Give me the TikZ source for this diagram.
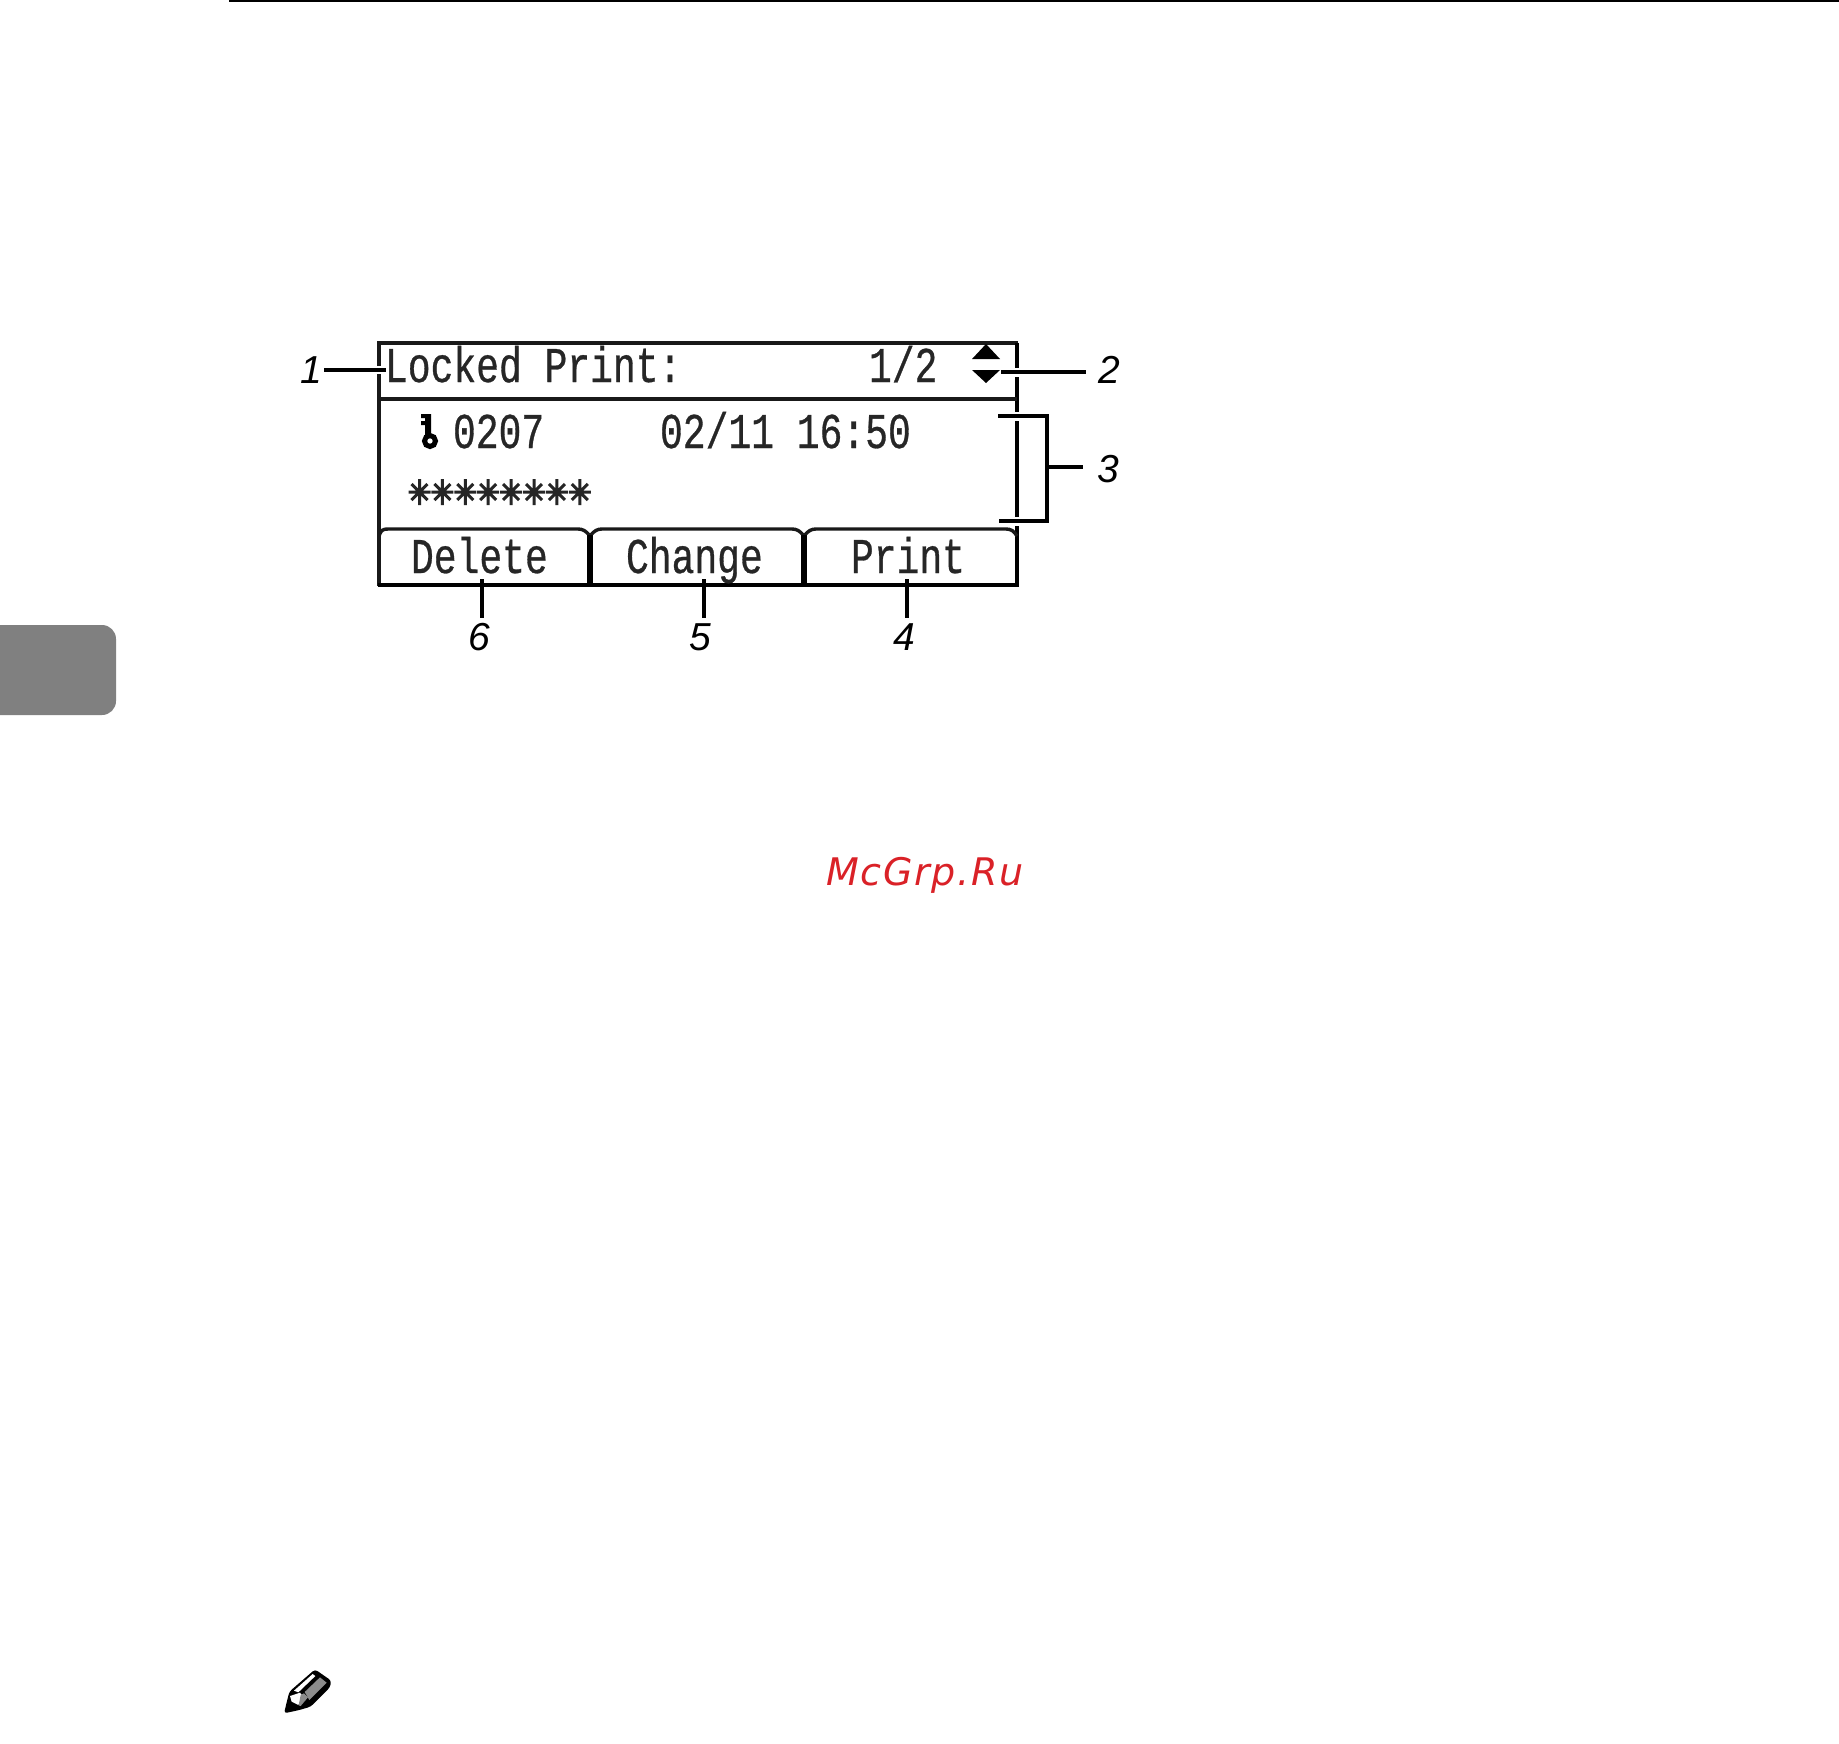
\documentclass[tikz,border=0pt]{standalone}
\usepackage{fontspec}
\setmainfont{Liberation Sans}
\newfontfamily\lcdfont[FakeStretch=0.76,FakeBold=0.6]{Liberation Mono}
\newfontfamily\markfont[LetterSpace=4.5]{DejaVu Sans}
\tikzset{
  lcd/.style={anchor=base west,inner sep=0pt,outer sep=0pt,text=black!85,font=\lcdfont\fontsize{50}{50}\selectfont},
  callout/.style={inner sep=0pt,outer sep=0pt,font=\itshape\fontsize{39}{39}\selectfont},
  leader/.style={draw=black,line width=4pt},
  halo/.style={draw=white,line width=9pt},
  frameline/.style={draw=black!90,line width=3.4pt},
  heavyline/.style={draw=black,line width=4.5pt},
}
\begin{document}
\begin{tikzpicture}[x=1pt,y=-1pt]
\useasboundingbox (0,0) rectangle (1839,1743);
\fill[white] (0,0) rectangle (1839,1743);
% header rule and side tab
\fill[black] (229,0) rectangle (1839,2);
\fill[black!50] (-20,625) [rounded corners=14pt] -- (116,625) -- (116,715) -- (-20,715) -- cycle;
% screen frame
\draw[frameline] (379,586) -- (379,343) -- (1018,343);
\draw[heavyline] (1017,343) -- (1017,586);
\draw[heavyline] (377.5,585) -- (1019.2,585);
\draw[frameline] (379,399) -- (1017,399);
% tab tops
\draw[frameline] (379,536) .. controls (381,530) and (383,529) .. (388,529) -- (578,529) .. controls (583,529) and (586,531) .. (590,536) .. controls (594,531) and (597,529) .. (602,529) -- (792,529) .. controls (797,529) and (800,531) .. (804,536) .. controls (808,531) and (811,529) .. (816,529) -- (1006,529) .. controls (1011,529) and (1014,531) .. (1017,536);
\draw[draw=black,line width=6pt] (590,535) -- (590,586);
\draw[draw=black,line width=6pt] (804,535) -- (804,586);
% screen text
\node[lcd] (title) at (385,382) {Locked Print:};
\node[lcd] (page) at (869,382) {1/2};
\node[lcd] (num) at (453,448) {0207};
\node[lcd] (stamp) at (660,448) {02/11 16:50};
\node[lcd] (del) at (411,573) {Delete};
\node[lcd] (chg) at (626,573) {Change};
\node[lcd] (prt) at (851,573) {Print};
% masked password
\foreach \i in {0,...,7}{
  \begin{scope}[shift={(419.5+22.9*\i,492)}]
    \draw[black!85,line width=3pt] (-11,0) -- (11,0) (0,-13) -- (0,13) (-8,-8) -- (8,8) (-8,8) -- (8,-8);
  \end{scope}
}
% key icon
\fill[black] (421,414) rectangle (431,418) (421,421) rectangle (431,425) (425,414) rectangle (431,436);
\draw[black,line width=5pt] (430,441) circle (5.5pt);
% scroll arrows
\fill[black] (972,359) -- (986,344) -- (1000,359) -- cycle;
\fill[black] (972,370) -- (986,383) -- (1000,370) -- cycle;
% callouts
\node[callout] (n1) at (311,370) {1};
\node[callout] (n2) at (1109,370) {2};
\node[callout] (n3) at (1108,469) {3};
\node[callout] (n4) at (904,637) {4};
\node[callout] (n5) at (700,637) {5};
\node[callout] (n6) at (479,637) {6};
\coordinate (e1) at (386,369.5);
\coordinate (e2) at (1001,372);
\coordinate (b1) at (998,416);
\coordinate (b2) at (1047,416);
\coordinate (b3) at (1047,521);
\coordinate (b4) at (999,521);
\coordinate (bm) at (1047,467);
\coordinate (e4) at (907,579);
\coordinate (e5) at (704,579);
\coordinate (e6) at (482,579);
% halos
\draw[draw=white,line width=8pt] (376,369.5) -- (388,369.5);
\draw[halo] (1010,372) -- (1025,372);
\draw[halo] (1010,416) -- (1025,416);
\draw[halo] (1010,521) -- (1025,521);
\draw[draw=white,line width=8pt] (907,578) -- (907,582);
\draw[draw=white,line width=8pt] (704,578) -- (704,582);
\draw[draw=white,line width=8pt] (482,578) -- (482,582);
% leaders
\draw[leader] (324,369.5) -- (e1);
\draw[leader] (e2) -- (1086,372);
\draw[leader] (b1) -- (b2) -- (b3) -- (b4);
\draw[leader] (bm) -- (1083,467);
\draw[leader] (e4) -- (907,618);
\draw[leader] (e5) -- (704,618);
\draw[leader] (e6) -- (482,618);
% watermark
\node[anchor=base west,inner sep=0pt,text={rgb,255:red,218;green,33;blue,39},font=\markfont\itshape\fontsize{38}{38}\selectfont] (wm) at (826,885) {McGrp.Ru};
% pencil icon
\begin{scope}[shift={(270,1660)},x=0.3333pt,y=-0.3333pt]
\fill[black,rounded corners=3pt] (42,160) -- (58,95) -- (135,28) -- (184,62) -- (180,82) -- (122,140) -- (88,150) -- cycle;
\fill[white] (60,108) -- (90,98) -- (98,108) -- (85,135) -- (65,125) -- cycle;
\fill[black!45] (92,105) -- (102,100) -- (114,112) -- (92,138) -- (86,136) -- cycle;
\fill[white] (72,92) -- (128,42) -- (136,48) -- (85,97) -- cycle;
\fill[black!45] (104,96) -- (150,52) -- (170,68) -- (118,120) -- cycle;
\end{scope}
\end{tikzpicture}
\end{document}
